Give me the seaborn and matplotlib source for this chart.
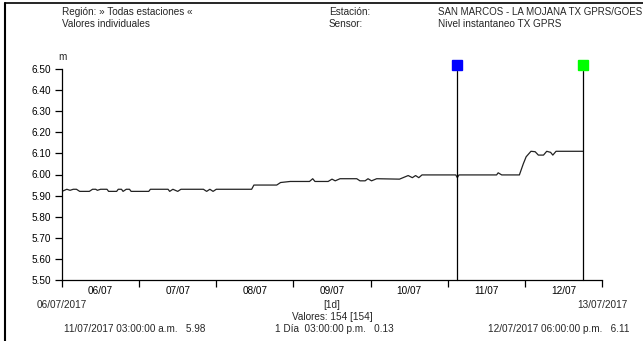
import matplotlib
matplotlib.use("Agg")
import matplotlib.pyplot as plt
from matplotlib.lines import Line2D
from matplotlib.ticker import FixedLocator, NullFormatter, FixedFormatter
import seaborn as sns
import pandas as pd

# ---- data (hours since 06/07/2017 00:00) ----
hours = [0, 1.5, 2.5, 3.5, 4.5, 5.5, 8.5, 9.5, 10.5, 11, 12, 14, 14.5, 17, 17.5,
         18.5, 19, 20, 21, 21.5, 27, 27.5, 33, 33.5, 34.5, 36, 37, 44, 45, 46, 47,
         48, 59, 59.7, 66.8, 68, 71, 77, 78, 78.7, 82.8, 84, 85, 86.5, 91.7, 92.7,
         94.3, 95.2, 96.3, 97.9, 105, 107.7, 109, 110, 111, 112, 122.5, 123, 123.5,
         135.2, 135.7, 136.8, 142.3, 143.5, 144.4, 145.9, 147.2, 148.2, 149.8,
         150.8, 152, 152.7, 153.7, 162]
level = [5.92, 5.93, 5.925, 5.93, 5.93, 5.92, 5.92, 5.93, 5.93, 5.925, 5.93, 5.93,
         5.92, 5.92, 5.93, 5.93, 5.92, 5.93, 5.93, 5.92, 5.92, 5.93, 5.93, 5.92,
         5.93, 5.92, 5.93, 5.93, 5.92, 5.93, 5.92, 5.93, 5.93, 5.95, 5.95, 5.962,
         5.967, 5.967, 5.98, 5.967, 5.967, 5.978, 5.97, 5.98, 5.98, 5.97, 5.97,
         5.98, 5.97, 5.98, 5.978, 5.995, 5.985, 5.995, 5.985, 5.998, 5.998, 5.985,
         5.998, 5.998, 6.008, 5.998, 5.998, 6.05, 6.084, 6.11, 6.108, 6.092,
         6.092, 6.11, 6.105, 6.092, 6.11, 6.11]
day_labels = ["06/07", "07/07", "08/07", "09/07", "10/07", "11/07", "12/07"]
y_ticks = [5.50, 5.60, 5.70, 5.80, 5.90, 6.00, 6.10, 6.20, 6.30, 6.40, 6.50]
cursor_hours = [123, 162]          # 11/07 03:00, 12/07 18:00
cursor_colors = ["#0000FF", "#00FF00"]

df = pd.DataFrame({"day": [h / 24 for h in hours], "nivel": level})

sns.set_style("ticks")
plt.rcParams["font.family"] = ["Liberation Sans Narrow", "Liberation Sans", "DejaVu Sans"]

W, H = 643, 341
fig = plt.figure(figsize=(W / 100, H / 100), dpi=100)
ax = fig.add_axes([62 / W, 1 - 280 / H, 540 / W, 211 / H])

sns.lineplot(data=df, x="day", y="nivel", ax=ax, color="#222222", linewidth=0.9)

for ch, col in zip(cursor_hours, cursor_colors):
    d = ch / 24
    ax.plot([d, d], [5.5, 6.49], color="black", linewidth=0.9, clip_on=False)
    ax.plot([d], [6.52], marker="s", markersize=7.5, color=col,
            markeredgecolor=col, clip_on=False)

ax.set_xlim(0, 7)
ax.set_ylim(5.5, 6.5)
ax.set_xlabel("")
ax.set_ylabel("")
sns.despine(ax=ax)
for s in ["left", "bottom"]:
    ax.spines[s].set_linewidth(0.9)
    ax.spines[s].set_color("black")

ax.yaxis.set_major_locator(FixedLocator(y_ticks))
ax.set_yticklabels([f"{v:.2f}" for v in y_ticks])
ax.tick_params(axis="y", length=5, width=0.9, pad=3, labelsize=7.2, colors="black")

ax.xaxis.set_major_locator(FixedLocator(list(range(0, 8))))
ax.xaxis.set_major_formatter(NullFormatter())
ax.xaxis.set_minor_locator(FixedLocator([i + 0.5 for i in range(7)]))
ax.xaxis.set_minor_formatter(FixedFormatter(day_labels))
ax.tick_params(axis="x", which="major", length=5, width=0.9, colors="black")
ax.tick_params(axis="x", which="minor", length=0, pad=4, labelsize=7.2, colors="black")

ax.text(0, 6.535, "m", ha="center", va="bottom", fontsize=7.2)

def ftext(x, y, s, **kw):
    kw.setdefault("fontsize", 7.2)
    fig.text(x / W, 1 - y / H, s, va="center", **kw)

ftext(62, 12, "Región: » Todas estaciones «")
ftext(62, 24, "Valores individuales")
ftext(329, 12, "Estación:")
ftext(329, 24, "Sensor:")
ftext(438, 12, "SAN MARCOS - LA MOJANA TX GPRS/GOES", fontsize=7.0)
ftext(438, 24, "Nivel instantaneo TX GPRS")

ftext(62, 305, "06/07/2017", ha="center")
ftext(602, 305, "13/07/2017", ha="center")
ftext(332, 305, "[1d]", ha="center")
ftext(332, 317, "Valores: 154 [154]", ha="center")
ftext(64, 329, "11/07/2017 03:00:00 a.m.   5.98")
ftext(334, 329, "1 Día  03:00:00 p.m.   0.13", ha="center")
ftext(488, 329, "12/07/2017 06:00:00 p.m.   6.11")

# window frame (top and left)
fig.add_artist(Line2D([5 / W, 5 / W], [0, 1 - 3 / H], color="black", linewidth=1.5,
                      transform=fig.transFigure))
fig.add_artist(Line2D([5 / W, 1], [1 - 3 / H, 1 - 3 / H], color="black", linewidth=1.2,
                      transform=fig.transFigure))

fig.savefig("out.png", dpi=100)
